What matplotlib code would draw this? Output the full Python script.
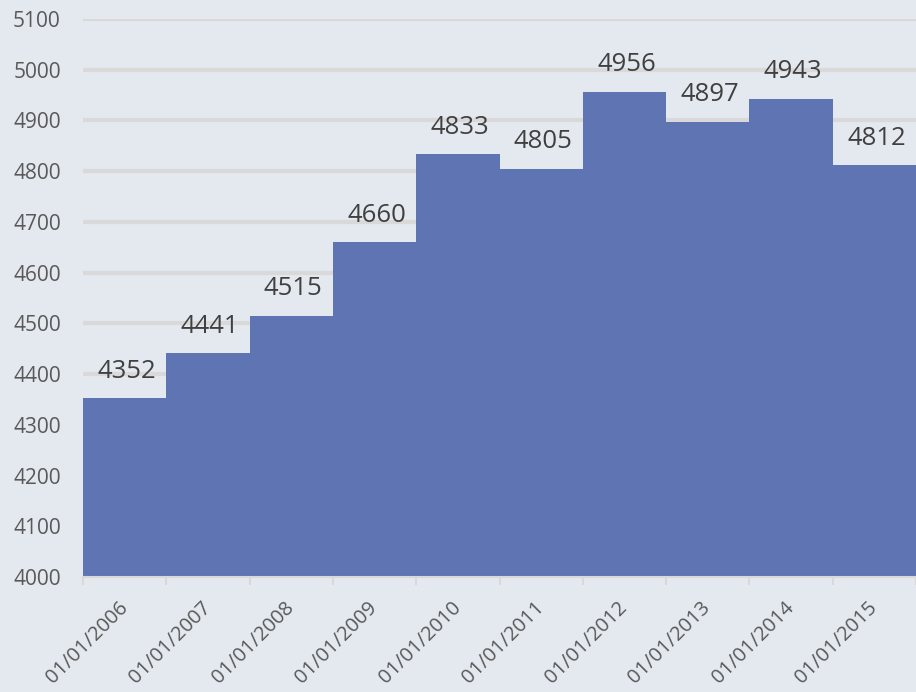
import numpy as np
import matplotlib.pyplot as plt

dates = ['01/01/2006', '01/01/2007', '01/01/2008', '01/01/2009', '01/01/2010',
         '01/01/2011', '01/01/2012', '01/01/2013', '01/01/2014', '01/01/2015']
values = [4352, 4441, 4515, 4660, 4833, 4805, 4956, 4897, 4943, 4812]

bg = '#E4E8EF'
bar_color = '#5F75B3'

plt.rcParams['font.family'] = ['Open Sans', 'DejaVu Sans']

fig = plt.figure(figsize=(9.16, 6.92), dpi=100, facecolor=bg)
ax = fig.add_axes([83/916, 1-577/692, 1-83/916, (577-19)/692])
ax.set_facecolor(bg)

x = np.arange(len(values))
ax.bar(x, np.array(values) - 4000, bottom=4000, width=1.0, color=bar_color, zorder=2)

for xi, v in zip(x, values):
    ax.annotate(str(v), (xi, v), xytext=(1.5, 19.5), textcoords='offset points',
                ha='center', va='center', fontsize=18.5, color='#404040', zorder=1)

ax.set_xlim(-0.5, len(values) - 0.5)
ax.set_ylim(4000, 5100)
ax.set_yticks(np.arange(4000, 5101, 100))
ax.yaxis.grid(True, color='#D9D9D9', linewidth=3, zorder=0)
ax.set_axisbelow(True)

ax.set_xticks(x)
ax.set_xticklabels(dates, rotation=45, ha='right', va='center', rotation_mode='anchor')
ax.set_xticks(np.arange(-0.5, len(values)), minor=True)
ax.tick_params(axis='x', which='major', length=0, pad=20, labelsize=14.5, labelcolor='#595959')
ax.tick_params(axis='x', which='minor', length=6, width=1.5, color='#D9D9D9')
ax.tick_params(axis='y', length=0, pad=16, labelsize=15, labelcolor='#595959')

for s in ['top', 'right', 'left']:
    ax.spines[s].set_visible(False)
ax.spines['bottom'].set_color('#D9D9D9')
ax.spines['bottom'].set_linewidth(1.5)

plt.savefig('out.png', dpi=100, facecolor=bg)
